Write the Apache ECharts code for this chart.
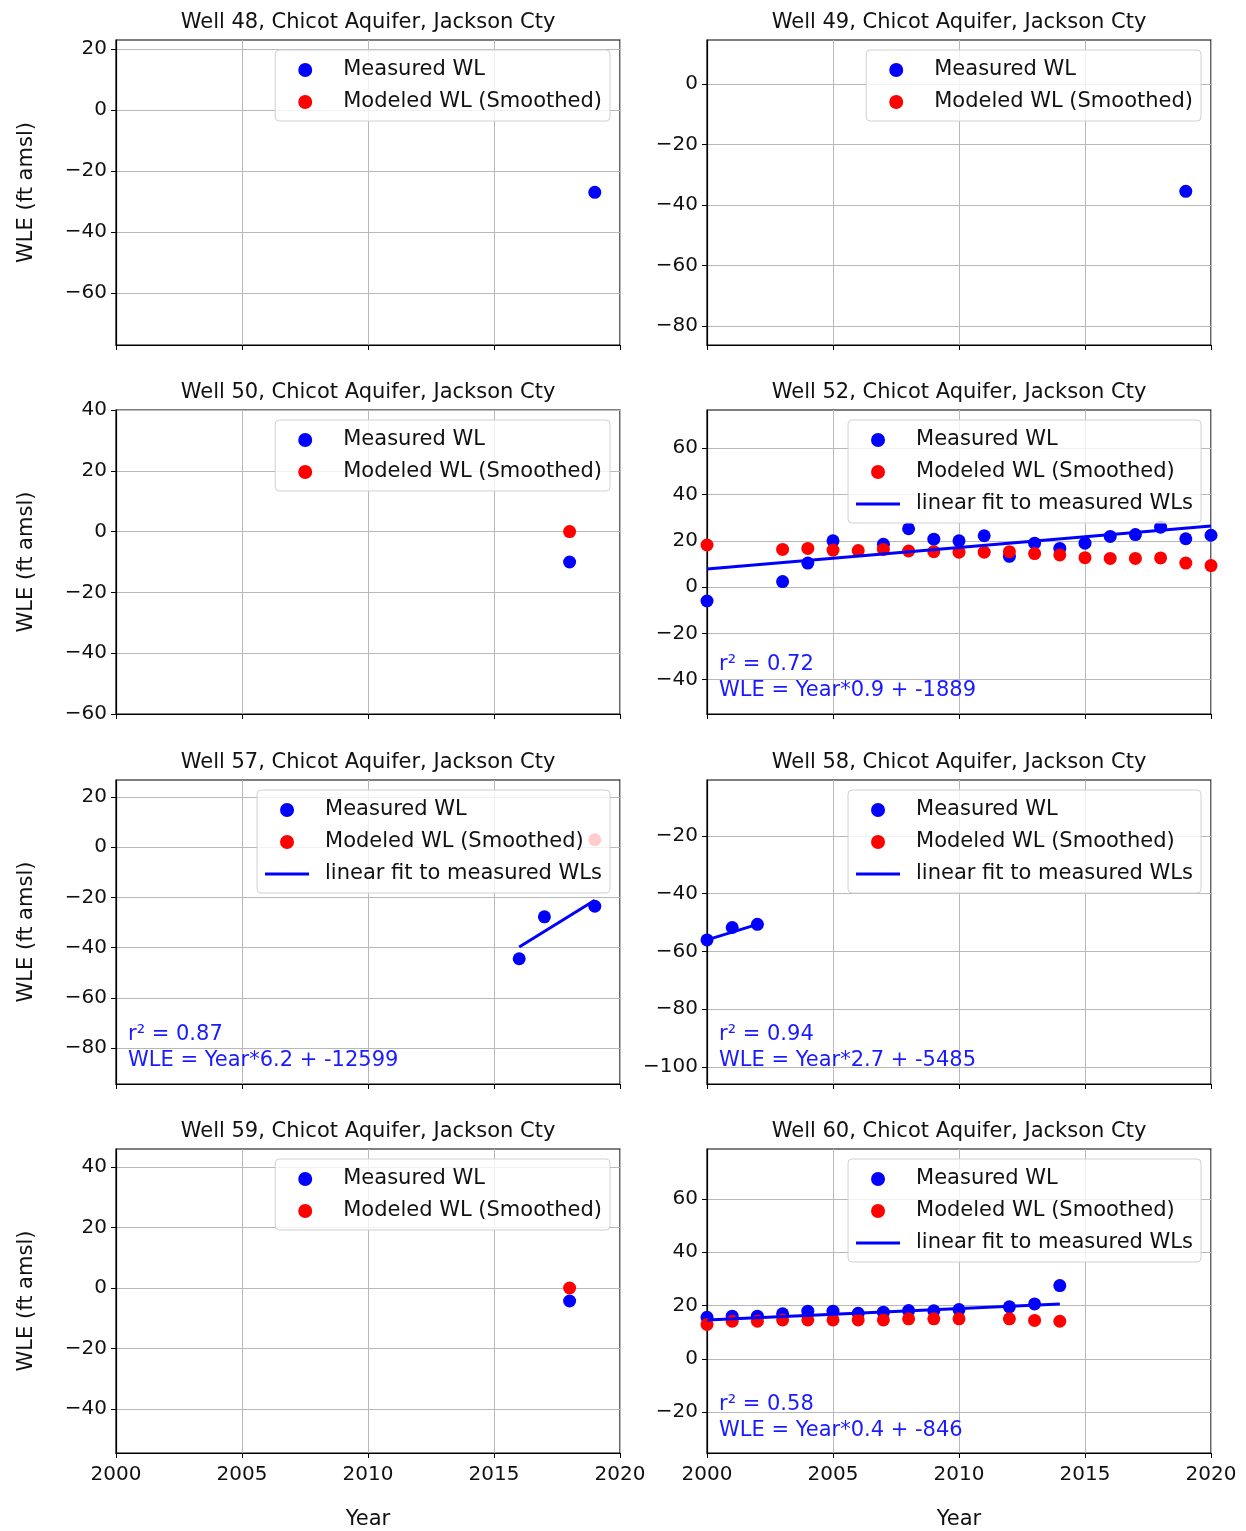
<!DOCTYPE html>
<html>
<head>
<meta charset="utf-8">
<script src="https://cdn.jsdelivr.net/npm/echarts@6/dist/echarts.min.js"></script>
<style>
html,body{margin:0;padding:0;background:#ffffff;}
#chart{width:1246px;height:1531px;}
</style>
</head>
<body>
<div id="chart"></div>
<script>
// ---------------- data ----------------
const wellTitles = [
  'Well 48, Chicot Aquifer, Jackson Cty',
  'Well 49, Chicot Aquifer, Jackson Cty',
  'Well 50, Chicot Aquifer, Jackson Cty',
  'Well 52, Chicot Aquifer, Jackson Cty',
  'Well 57, Chicot Aquifer, Jackson Cty',
  'Well 58, Chicot Aquifer, Jackson Cty',
  'Well 59, Chicot Aquifer, Jackson Cty',
  'Well 60, Chicot Aquifer, Jackson Cty'
];
const xTickLabels = [2000, 2005, 2010, 2015, 2020];
const legendNames = ['Measured WL', 'Modeled WL (Smoothed)', 'linear fit to measured WLs'];

// Well 48
const meas48X = [2019];
const meas48Y = [-27];
const mod48X = [];
const mod48Y = [];
const yRange48 = [-77.05, 22.95];

// Well 49
const meas49X = [2019];
const meas49Y = [-35.5];
const mod49X = [];
const mod49Y = [];
const yRange49 = [-86.3, 14.5];

// Well 50
const meas50X = [2018];
const meas50Y = [-10];
const mod50X = [2018];
const mod50Y = [0];
const yRange50 = [-60, 40];

// Well 52
const meas52X = [2000, 2003, 2004, 2005, 2007, 2008, 2009, 2010, 2011, 2012, 2013, 2014, 2015, 2016, 2017, 2018, 2019, 2020];
const meas52Y = [-6, 2.4, 10.4, 20, 18.5, 25.2, 20.7, 20, 22.2, 13.3, 19, 16.7, 19, 21.9, 22.7, 25.9, 20.9, 22.4];
const mod52X = [2000, 2003, 2004, 2005, 2006, 2007, 2008, 2009, 2010, 2011, 2012, 2013, 2014, 2015, 2016, 2017, 2018, 2019, 2020];
const mod52Y = [18.2, 16.3, 16.7, 16, 15.8, 16.3, 15.6, 15.3, 15.1, 15.1, 15.3, 14.5, 13.9, 12.7, 12.4, 12.4, 12.6, 10.4, 9.3];
const fit52X = [2000, 2020];
const fit52Y = [7.8, 26.4];
const yRange52 = [-54.8, 76.5];
const note52 = ['r\u00b2 = 0.72', 'WLE = Year*0.9 + -1889'];

// Well 57
const meas57X = [2016, 2017, 2019];
const meas57Y = [-44.4, -27.7, -23.5];
const mod57X = [2019];
const mod57Y = [3];
const fit57X = [2016, 2019];
const fit57Y = [-39.7, -21.1];
const yRange57 = [-94.3, 26.8];
const note57 = ['r\u00b2 = 0.87', 'WLE = Year*6.2 + -12599'];

// Well 58
const meas58X = [2000, 2001, 2002];
const meas58Y = [-56, -51.7, -50.6];
const mod58X = [];
const mod58Y = [];
const fit58X = [2000, 2002];
const fit58Y = [-56, -50.6];
const yRange58 = [-105.9, -0.6];
const note58 = ['r\u00b2 = 0.94', 'WLE = Year*2.7 + -5485'];

// Well 59
const meas59X = [2018];
const meas59Y = [-4.3];
const mod59X = [2018];
const mod59Y = [0];
const yRange59 = [-54.5, 45.9];

// Well 60
const meas60X = [2000, 2001, 2002, 2003, 2004, 2005, 2006, 2007, 2008, 2009, 2010, 2012, 2013, 2014];
const meas60Y = [15.6, 16, 16, 16.9, 17.9, 17.9, 17.1, 17.5, 18.1, 18, 18.5, 19.5, 20.6, 27.5];
const mod60X = [2000, 2001, 2002, 2003, 2004, 2005, 2006, 2007, 2008, 2009, 2010, 2012, 2013, 2014];
const mod60Y = [12.9, 14.1, 14.1, 14.6, 14.6, 14.6, 14.6, 14.6, 15, 15, 15, 15, 14.4, 14.1];
const fit60X = [2000, 2014];
const fit60Y = [14.6, 20.6];
const yRange60 = [-35.3, 78.7];
const note60 = ['r\u00b2 = 0.58', 'WLE = Year*0.4 + -846'];

// ---------------- layout ----------------
const W = 1246;
const colLeft = [116, 707];
const gridW = 504;
const rowTop = [40, 410, 780, 1149];
const gridH = [305, 304, 304, 305];
const FONT = 'DejaVu Sans';
const FS = 21;      // titles, legend, axis names, notes
const FS_TICK = 20; // tick labels
const Y_STEP = 20;

// legend icons: 55x14 box, marker centred over a 44 px handle
const circleIcon = 'path://M0,0L0.01,0ZM55,14L54.99,14ZM15,7A7,7,0,1,1,29,7A7,7,0,1,1,15,7Z';
const lineIcon = 'path://M0,0L0.01,0ZM55,14L54.99,14ZM0,5.5L44,5.5L44,8.5L0,8.5Z';

const zip = (xs, ys) => xs.map((x, i) => [x, ys[i]]);

const panels = [
  { meas: [meas48X, meas48Y], mod: [mod48X, mod48Y], fit: null, yr: yRange48, note: null },
  { meas: [meas49X, meas49Y], mod: [mod49X, mod49Y], fit: null, yr: yRange49, note: null },
  { meas: [meas50X, meas50Y], mod: [mod50X, mod50Y], fit: null, yr: yRange50, note: null },
  { meas: [meas52X, meas52Y], mod: [mod52X, mod52Y], fit: [fit52X, fit52Y], yr: yRange52, note: note52 },
  { meas: [meas57X, meas57Y], mod: [mod57X, mod57Y], fit: [fit57X, fit57Y], yr: yRange57, note: note57 },
  { meas: [meas58X, meas58Y], mod: [mod58X, mod58Y], fit: [fit58X, fit58Y], yr: yRange58, note: note58 },
  { meas: [meas59X, meas59Y], mod: [mod59X, mod59Y], fit: null, yr: yRange59, note: null },
  { meas: [meas60X, meas60Y], mod: [mod60X, mod60Y], fit: [fit60X, fit60Y], yr: yRange60, note: note60 }
];

const minus = s => String(s).replace('-', '\u2212');
const yTicksFor = r => {
  const out = [];
  for (let v = Math.ceil(r[0] / Y_STEP) * Y_STEP; v <= r[1] + 1e-9; v += Y_STEP) out.push(v);
  return out;
};

const grid = [], xAxis = [], yAxis = [], series = [], title = [], legend = [], graphic = [];

panels.forEach((p, i) => {
  const col = i % 2, row = Math.floor(i / 2);
  const left = colLeft[col], top = rowTop[row], h = gridH[row];
  const bottomRow = row === 3;
  const yTicks = yTicksFor(p.yr);
  grid.push({
    left: left, top: top, width: gridW, height: h,
    show: true, borderColor: '#000', borderWidth: 1.2, backgroundColor: '#fff'
  });
  xAxis.push({
    type: 'value', gridIndex: i, min: xTickLabels[0], max: xTickLabels[xTickLabels.length - 1], interval: 5,
    axisLine: { show: true, onZero: false, lineStyle: { color: '#000', width: 1.2 } },
    axisTick: { show: true, inside: false, length: 5, lineStyle: { color: '#000' } },
    axisLabel: { show: bottomRow, margin: 12, color: '#111', fontFamily: FONT, fontSize: FS_TICK,
      formatter: v => String(v) },
    splitLine: { show: true, lineStyle: { color: '#b8b8b8', width: 1 } },
    name: bottomRow ? 'Year' : '', nameLocation: 'middle', nameGap: 56,
    nameTextStyle: { color: '#111', fontFamily: FONT, fontSize: FS }
  });
  yAxis.push({
    type: 'value', gridIndex: i, min: p.yr[0], max: p.yr[1], minInterval: Y_STEP, maxInterval: Y_STEP,
    axisLine: { show: true, onZero: false, lineStyle: { color: '#000', width: 1.2 } },
    axisTick: { show: true, inside: false, length: 5, customValues: yTicks, lineStyle: { color: '#000' } },
    axisLabel: { margin: 9, color: '#111', fontFamily: FONT, fontSize: FS_TICK, customValues: yTicks,
      formatter: v => minus(v) },
    splitLine: { show: true, lineStyle: { color: '#b8b8b8', width: 1 } },
    name: col === 0 ? 'WLE (ft amsl)' : '', nameLocation: 'middle', nameGap: 79,
    nameTextStyle: { color: '#111', fontFamily: FONT, fontSize: FS }
  });
  title.push({
    text: wellTitles[i], left: left + gridW / 2, top: top - 28, textAlign: 'center', padding: 0,
    textStyle: { color: '#111', fontFamily: FONT, fontSize: FS, fontWeight: 'normal' }
  });
  const names = p.fit ? legendNames : legendNames.slice(0, 2);
  legend.push({
    orient: 'vertical', right: W - (left + gridW) + 10, top: top + 10,
    data: names.map((n, k) => ({ name: n, icon: k < 2 ? circleIcon : lineIcon })),
    itemWidth: 55, itemHeight: 14, itemGap: 10,
    padding: [9, 8, 8, 8],
    itemStyle: { borderWidth: 0 },
    backgroundColor: 'rgba(255,255,255,0.8)', borderColor: '#d0d0d0', borderWidth: 1, borderRadius: 4,
    selectedMode: false,
    textStyle: { color: '#111', fontFamily: FONT, fontSize: FS, lineHeight: 22 }
  });
  series.push({
    type: 'scatter', name: legendNames[0], xAxisIndex: i, yAxisIndex: i,
    data: zip(p.meas[0], p.meas[1]), symbol: 'circle', symbolSize: 13,
    itemStyle: { color: '#0000ff', opacity: 1 }, z: 2, silent: true
  });
  series.push({
    type: 'scatter', name: legendNames[1], xAxisIndex: i, yAxisIndex: i,
    data: zip(p.mod[0], p.mod[1]), symbol: 'circle', symbolSize: 13,
    itemStyle: { color: '#ff0000', opacity: 1 }, z: 2, silent: true
  });
  if (p.fit) {
    series.push({
      type: 'line', name: legendNames[2], xAxisIndex: i, yAxisIndex: i,
      data: zip(p.fit[0], p.fit[1]), showSymbol: false, symbol: 'none',
      lineStyle: { color: '#0000ff', width: 3 }, itemStyle: { color: '#0000ff' }, z: 3, silent: true
    });
  }
  if (p.note) {
    const bottom = top + h;
    graphic.push({ type: 'text', x: left + 12, y: bottom - 49, z: 10,
      style: { text: p.note[0], fill: '#1a1aff', font: FS + 'px "' + FONT + '"', verticalAlign: 'middle', align: 'left' } });
    graphic.push({ type: 'text', x: left + 12, y: bottom - 23, z: 10,
      style: { text: p.note[1], fill: '#1a1aff', font: FS + 'px "' + FONT + '"', verticalAlign: 'middle', align: 'left' } });
  }
});

const chart = echarts.init(document.getElementById('chart'), null, { renderer: 'canvas' });
chart.setOption({
  animation: false,
  backgroundColor: '#ffffff',
  title, legend, grid, xAxis, yAxis, series, graphic
});
</script>
</body>
</html>
